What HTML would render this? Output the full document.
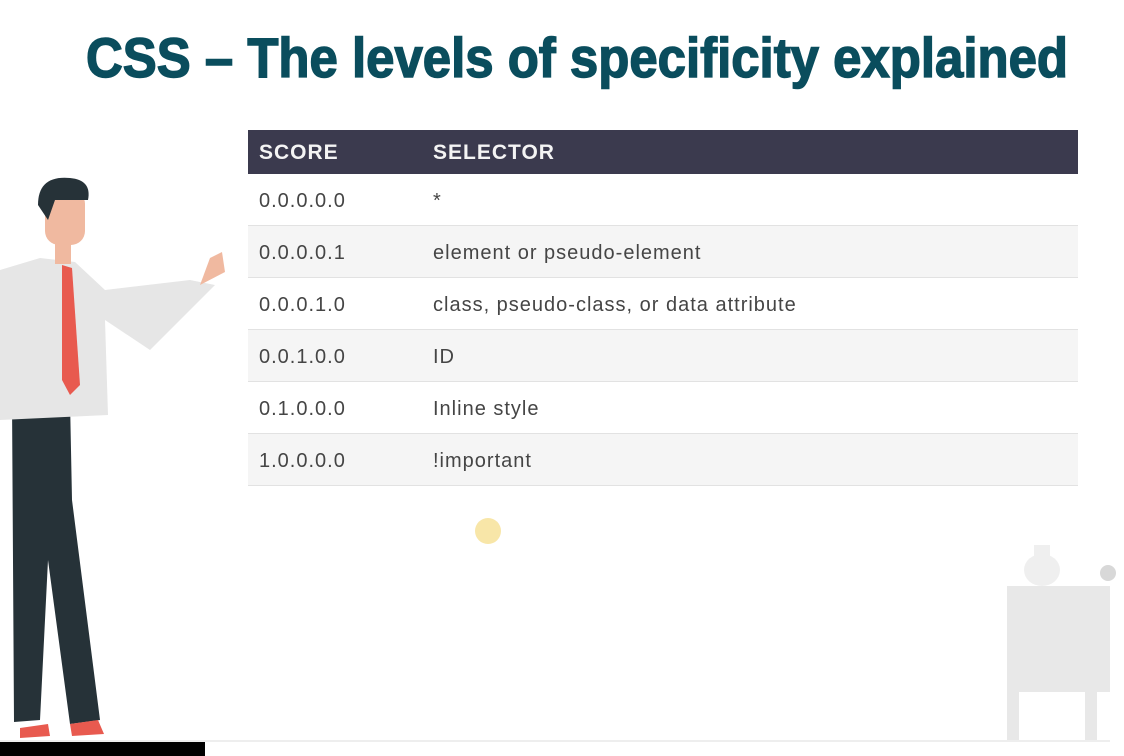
<!DOCTYPE html>
<html><head><meta charset="utf-8"><style>
body{margin:0;width:1124px;height:756px;background:#fff;position:relative;overflow:hidden;font-family:"Liberation Sans",sans-serif}
.hd{position:absolute;left:248px;top:130px;width:830px;height:44px;background:#3b3a4e;color:#f4f4f4;font-weight:bold;font-size:21px;letter-spacing:1px}
.hd span{position:absolute;top:11px}
.row{position:absolute;left:248px;width:830px;height:51px;border-bottom:1px solid #e2e2e2;color:#454545;font-size:20px;letter-spacing:1px}
.row span{position:absolute;top:16px}
.g{background:#f5f5f5}
</style></head><body>
<svg style="position:absolute;left:0;top:0" width="1124" height="110"><text x="86" y="77" textLength="982" lengthAdjust="spacingAndGlyphs" font-family="Liberation Sans" font-weight="bold" font-size="56" fill="#0a4d5d" stroke="#0a4d5d" stroke-width="1.5">CSS – The levels of specificity explained</text></svg>
<div class="hd"><span style="left:11px">SCORE</span><span style="left:185px">SELECTOR</span></div>
<div class="row" style="top:174px"><span style="left:11px">0.0.0.0.0</span><span style="left:185px">*</span></div>
<div class="row g" style="top:226px"><span style="left:11px">0.0.0.0.1</span><span style="left:185px">element or pseudo-element</span></div>
<div class="row" style="top:278px"><span style="left:11px">0.0.0.1.0</span><span style="left:185px">class, pseudo-class, or data attribute</span></div>
<div class="row g" style="top:330px"><span style="left:11px">0.0.1.0.0</span><span style="left:185px">ID</span></div>
<div class="row" style="top:382px"><span style="left:11px">0.1.0.0.0</span><span style="left:185px">Inline style</span></div>
<div class="row g" style="top:434px"><span style="left:11px">1.0.0.0.0</span><span style="left:185px">!important</span></div>
<svg style="position:absolute;left:0;top:0" width="1124" height="756">
<circle cx="488" cy="531" r="13" fill="#f8e6a8"/>
<g fill="#e8e8e8"><rect x="1007" y="586" width="103" height="54"/><rect x="1007" y="640" width="103" height="52"/><rect x="1007" y="692" width="12" height="48"/><rect x="1085" y="692" width="12" height="48"/><ellipse cx="1042" cy="570" rx="18" ry="16" fill="#efefef"/><rect x="1034" y="545" width="16" height="12" fill="#efefef"/><circle cx="1108" cy="573" r="8" fill="#d8d8d8"/></g>
<rect x="0" y="740" width="1110" height="2" fill="#eee"/>
<g>
<path d="M12 400 L70 400 L72 500 L100 720 L70 724 L48 560 L40 720 L14 722 Z" fill="#263238"/>
<path d="M0 270 L40 258 L75 262 L105 290 L190 280 L215 285 L150 350 L105 320 L108 415 L0 420 Z" fill="#e6e6e6"/>
<path d="M62 265 L72 268 L80 385 L70 395 L62 380 Z" fill="#e85a4f"/>
<rect x="45" y="190" width="40" height="55" rx="14" fill="#f0b9a0"/>
<rect x="55" y="240" width="16" height="24" fill="#f0b9a0"/>
<path d="M38 205 Q38 175 70 178 Q92 180 88 200 L55 200 L48 220 Z" fill="#263238"/>
<path d="M200 285 L210 258 L222 252 L225 272 Z" fill="#f0b9a0"/>
<path d="M20 728 L48 724 L50 736 L20 738 Z M70 724 L98 720 L104 734 L72 736 Z" fill="#e85a4f"/>
</g>
</svg>
<div style="position:absolute;left:0;top:742px;width:205px;height:14px;background:#000"></div>
</body></html>
